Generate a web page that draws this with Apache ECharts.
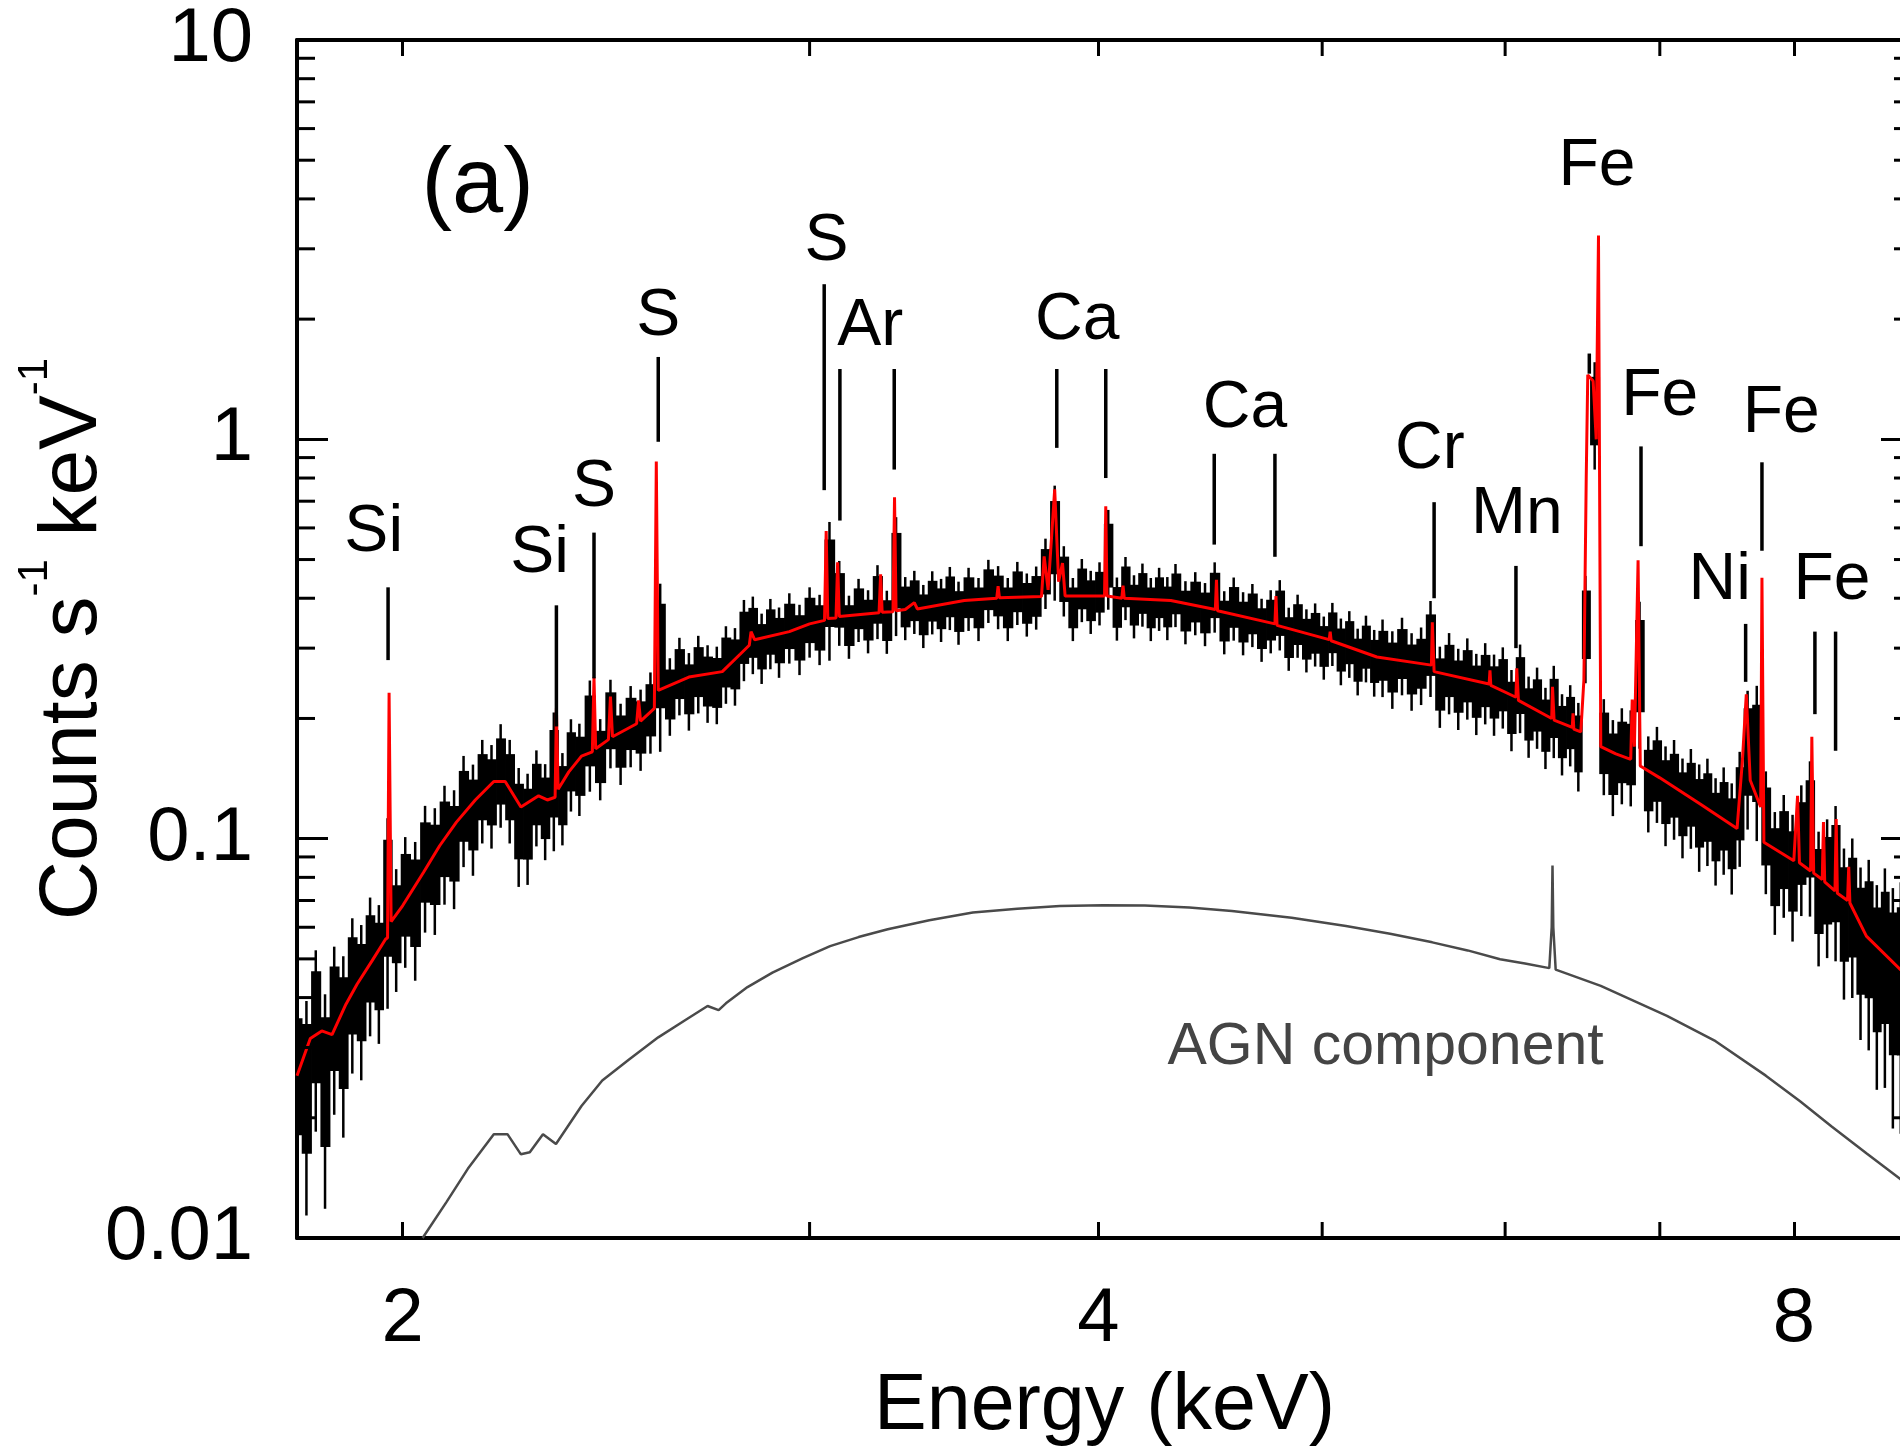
<!DOCTYPE html>
<html><head><meta charset="utf-8">
<script src="https://cdn.jsdelivr.net/npm/echarts@6/dist/echarts.min.js"></script>
<style>html,body{margin:0;padding:0;background:#fff;overflow:hidden;width:1900px;height:1450px}#c{width:1920px;height:1450px}</style>
</head><body><div id="c"></div>
<script>
const FONT = "'Liberation Sans', Arial, Helvetica, sans-serif";

// ---- axes ----
const X_MIN = 1.8, X_MAX = 9;
const Y_MIN = 0.01, Y_MAX = 10;
const xTickLabels = [2, 4, 8];
const xMinorTicks = [3, 5, 6, 7];
const yTickLabels = ['0.01', '0.1', '1', '10'];
const yMinorTicks = [0.02,0.03,0.04,0.05,0.06,0.07,0.08,0.09,0.2,0.3,0.4,0.5,0.6,0.7,0.8,0.9,2,3,4,5,6,7,8,9];

// ---- observed spectrum (bin centre energy, counts, relative error) ----
const obsE = [1.800,1.817,1.834,1.851,1.868,1.885,1.902,1.919,1.936,1.953,1.970,1.987,
2.005,2.025,2.045,2.065,2.085,2.105,2.125,2.145,2.165,2.185,2.205,2.225,2.245,2.265,2.285,2.305,2.325,2.345,2.365,2.385,
2.410,2.435,2.460,2.485,2.510,2.535,2.560,2.585,2.610,2.635,2.660,2.685,2.710,2.735,2.760,2.785,2.810,2.835,2.860,2.885,
2.910,2.940,2.970,3.000,3.030,3.060,3.090,3.120,3.150,3.180,3.210,3.240,3.270,3.300,3.330,3.360,3.390,3.420,3.450,3.480,
3.515,3.550,3.585,3.620,3.655,3.690,3.725,3.760,3.795,3.830,3.865,3.900,3.935,3.970,4.005,4.040,4.075,4.110,4.145,4.180,4.215,4.250,4.285,
4.320,4.363,4.406,4.449,4.492,4.535,4.578,4.621,4.664,4.707,4.750,4.793,4.836,4.879,4.922,4.965,5.008,5.051,5.094,5.137,5.180,5.223,5.266,
5.310,5.362,5.414,5.466,5.518,5.570,5.622,5.674,5.726,5.778,5.830,5.882,5.934,5.986,6.038,6.090,6.142,6.194,6.246,6.298,6.350,6.402,6.454,
6.500,6.560,6.620,6.680,6.740,6.800,6.860,6.920,6.980,7.040,7.100,7.160,7.220,7.280,7.340,7.400,7.460,7.520,7.580,7.640,
7.710,7.780,7.850,7.920,7.990,8.060,8.130,8.200,8.270,8.340,8.410,8.480,8.550,8.620,8.690,8.760,8.830,8.900];
const obsV = [0.0268,0.0253,0.0355,0.0263,0.0370,0.0343,0.0445,0.0428,0.0516,0.0494,0.075,0.0626,
0.0742,0.0711,0.0895,0.0883,0.102,0.0994,0.123,0.117,0.137,0.133,0.150,0.137,0.113,0.111,0.131,0.121,0.150,0.130,0.158,0.154,
0.190,0.162,0.200,0.177,0.196,0.192,0.212,0.300,0.232,0.261,0.239,0.264,0.250,0.248,0.279,0.276,0.322,0.331,0.305,0.332,
0.316,0.343,0.321,0.355,0.340,0.450,0.400,0.344,0.379,0.355,0.400,0.354,0.480,0.383,0.397,0.366,0.396,0.379,0.406,0.373,
0.404,0.381,0.423,0.408,0.381,0.418,0.391,0.407,0.470,0.580,0.450,0.381,0.425,0.397,0.417,0.520,0.382,0.430,0.387,0.414,0.381,0.404,0.383,
0.413,0.374,0.394,0.370,0.410,0.353,0.382,0.351,0.368,0.338,0.355,0.370,0.321,0.346,0.318,0.329,0.305,0.330,0.299,0.312,0.282,0.304,0.280,
0.290,0.271,0.293,0.268,0.277,0.310,0.246,0.266,0.243,0.258,0.236,0.251,0.235,0.245,0.215,0.245,0.207,0.218,0.194,0.215,0.187,0.197,0.175,
0.350,1.200,0.176,0.156,0.167,0.165,0.280,0.142,0.150,0.133,0.138,0.124,0.131,0.118,0.122,0.109,0.116,0.105,0.125,0.170,
0.170,0.110,0.087,0.096,0.085,0.100,0.110,0.076,0.081,0.085,0.067,0.070,0.058,0.059,0.050,0.054,0.047,0.048];
const obsErr = [0.5,0.55,0.48,0.55,0.45,0.48,0.42,0.42,0.38,0.38,0.5,0.34,
0.36,0.38,0.35,0.35,0.33,0.33,0.31,0.31,0.29,0.29,0.29,0.29,0.33,0.31,0.27,0.27,0.38,0.26,0.26,0.26,
0.31,0.23,0.25,0.23,0.23,0.23,0.23,0.45,0.22,0.22,0.22,0.22,0.22,0.22,0.22,0.22,0.23,0.22,0.2,0.2,
0.2,0.2,0.2,0.2,0.2,0.38,0.24,0.18,0.18,0.18,0.21,0.18,0.33,0.18,0.18,0.18,0.18,0.18,0.18,0.18,
0.18,0.18,0.18,0.18,0.18,0.18,0.18,0.18,0.2,0.32,0.2,0.18,0.18,0.18,0.18,0.28,0.18,0.18,0.18,0.18,0.18,0.18,0.18,
0.18,0.18,0.18,0.18,0.2,0.18,0.18,0.18,0.18,0.18,0.18,0.2,0.18,0.18,0.18,0.18,0.18,0.18,0.19,0.19,0.19,0.19,0.19,
0.22,0.22,0.22,0.22,0.22,0.27,0.23,0.23,0.23,0.23,0.23,0.23,0.23,0.23,0.23,0.25,0.23,0.23,0.23,0.26,0.23,0.23,0.25,
0.3,0.3,0.27,0.27,0.27,0.27,0.4,0.27,0.27,0.28,0.28,0.28,0.28,0.3,0.3,0.3,0.3,0.31,0.32,0.38,
0.42,0.34,0.34,0.34,0.35,0.36,0.42,0.37,0.38,0.42,0.41,0.43,0.46,0.5,0.53,0.56,0.6,0.62];

// ---- best-fit model (red) ----
const modelE = [1.800,1.824,1.845,1.864,1.890,1.911,1.940,1.966,1.970,1.973,
1.977,2.000,2.042,2.075,2.110,2.150,2.190,2.215,2.250,2.290,
2.310,2.328,2.331,2.335,2.360,2.390,2.416,2.420,2.424,2.455,
2.460,2.465,2.525,2.530,2.535,2.570,2.575,2.580,2.660,2.750,
2.800,2.825,2.830,2.840,2.940,3.000,3.045,3.050,3.055,3.080,
3.085,3.090,3.215,3.220,3.225,3.260,3.265,3.270,3.300,3.330,
3.340,3.500,3.615,3.620,3.625,3.780,3.790,3.805,3.830,3.845,
3.860,3.870,4.025,4.030,4.035,4.095,4.100,4.105,4.300,4.495,
4.500,4.505,4.770,4.775,4.780,5.035,5.040,5.045,5.280,5.575,
5.580,5.590,5.905,5.910,5.915,6.065,6.070,6.080,6.285,6.290,
6.300,6.415,6.420,6.425,6.470,6.490,6.505,6.515,6.550,6.570,
6.585,6.600,6.700,6.800,6.810,6.825,6.850,6.865,7.000,7.290,
7.560,7.600,7.630,7.660,7.740,7.750,7.765,8.000,8.030,8.045,
8.135,8.145,8.160,8.230,8.240,8.250,8.335,8.345,8.355,8.440,
8.450,8.460,8.600,9.000];
const modelV = [0.0255,0.0316,0.0330,0.0323,0.0385,0.0432,0.0495,0.0560,0.0565,0.232,
0.062,0.068,0.0824,0.096,0.110,0.125,0.139,0.139,0.120,0.128,
0.125,0.127,0.212,0.133,0.147,0.161,0.165,0.254,0.168,0.177,
0.227,0.180,0.194,0.222,0.197,0.212,0.880,0.235,0.254,0.262,
0.290,0.305,0.330,0.315,0.330,0.345,0.352,0.589,0.356,0.357,
0.492,0.360,0.368,0.459,0.369,0.370,0.716,0.372,0.375,0.390,
0.376,0.395,0.400,0.429,0.401,0.404,0.509,0.420,0.750,0.440,
0.490,0.405,0.405,0.680,0.405,0.400,0.430,0.400,0.395,0.375,
0.445,0.372,0.345,0.405,0.342,0.315,0.330,0.313,0.285,0.272,
0.348,0.262,0.244,0.264,0.242,0.226,0.267,0.222,0.200,0.240,
0.198,0.190,0.206,0.188,0.185,0.250,0.800,1.450,1.400,1.000,
3.240,0.170,0.163,0.158,0.223,0.170,0.498,0.152,0.142,0.122,
0.106,0.156,0.230,0.140,0.120,0.450,0.098,0.088,0.128,0.087,
0.083,0.180,0.082,0.079,0.110,0.078,0.074,0.112,0.073,0.070,
0.085,0.069,0.057,0.044];

// ---- AGN component (grey) ----
const agnE = [2.040,2.089,2.134,2.190,2.220,2.250,2.270,2.300,2.330,2.390,2.440,2.506,2.580,2.654,2.710,2.740,2.760,2.820,2.891,2.980,3.062,3.150,3.243,3.380,3.530,3.690,3.850,4.020,4.190,4.380,4.570,4.850,5.120,5.350,5.580,5.780,5.970,6.120,6.270,6.285,6.290,6.295,6.310,6.600,7.050,7.400,7.780,8.050,8.310,8.600,8.890,9.000];
const agnV = [0.0100,0.0123,0.0149,0.0182,0.0182,0.0162,0.0164,0.0182,0.0172,0.0214,0.0248,0.0280,0.0318,0.0353,0.0381,0.0372,0.0387,0.0425,0.0462,0.0502,0.0538,0.0567,0.0593,0.0625,0.0653,0.0668,0.0678,0.0681,0.0680,0.0672,0.0659,0.0634,0.0604,0.0578,0.0550,0.0525,0.0499,0.0487,0.0474,0.0600,0.0857,0.0600,0.0470,0.0428,0.0360,0.0311,0.0255,0.0220,0.0190,0.0163,0.0141,0.0133];

// ---- line identification markers ----
const markerE   = [1.971,2.331,2.420,2.580,3.044,3.092,3.264,3.838,4.030,4.490,4.770,5.590,6.065,6.525,6.870,7.750,7.625,8.170,8.340];
const markerTop = [0.426,0.384,0.584,1.608,2.446,1.500,1.500,1.500,1.500,0.920,0.920,0.696,0.482,1.640,0.960,0.876,0.345,0.330,0.330];
const markerBot = [0.280,0.191,0.252,0.986,0.746,0.626,0.840,0.952,0.800,0.545,0.508,0.400,0.300,1.460,0.540,0.526,0.247,0.205,0.166];

const labelText = ['Si','Si','S','S','S','Ar','Ca','Ca','Cr','Mn','Fe','Fe','Fe','Ni','Fe'];
const labelE    = [1.943,2.292,2.420,2.580,3.051,3.187,3.917,4.630,5.566,6.070,6.575,7.000,7.900,7.430,8.310];
const labelV    = [0.584,0.518,0.756,2.025,3.124,1.915,1.984,1.191,0.939,0.648,4.820,1.277,1.158,0.4415,0.4415];

const panelTag = '(a)';
const panelTagPos = [2.155, 4.3];
const agnLabel = 'AGN component';
const agnLabelPos = [5.326, 0.030];

// ---- chart ----
const chart = echarts.init(document.getElementById('c'), null, {renderer: 'canvas'});

function xLabel(v) {
  const r = Math.round(v);
  return (Math.abs(v - r) < 1e-6 && xTickLabels.indexOf(r) >= 0) ? String(r) : '';
}
function yLabel(v) {
  const lg = Math.log10(v), r = Math.round(lg);
  if (Math.abs(lg - r) > 1e-6) return '';
  const idx = r - Math.round(Math.log10(Y_MIN));
  return yTickLabels[idx] || '';
}

const axisLine = {show: true, lineStyle: {color: '#000', width: 4}};
const baseX = {type: 'log', logBase: 2, min: X_MIN, max: X_MAX, splitLine: {show: false}, axisLine: axisLine};
const baseY = {type: 'log', logBase: 10, min: Y_MIN, max: Y_MAX, splitLine: {show: false}, axisLine: axisLine};

function textItem(text, size, color) {
  return function (params, api) {
    const p = api.coord([api.value(0), api.value(1)]);
    return {type: 'text', x: p[0], y: p[1],
      style: {text: text, fontSize: size, fontFamily: FONT, fill: color, align: 'center', verticalAlign: 'middle'}};
  };
}

chart.setOption({
  animation: false,
  backgroundColor: '#fff',
  grid: {left: 297, top: 40, width: 1615, height: 1198, containLabel: false, outerBoundsMode: 'none'},
  xAxis: [
    Object.assign({}, baseX, {position: 'bottom',
      axisTick: {show: true, inside: true, length: 16, lineStyle: {color: '#000', width: 3}},
      axisLabel: {show: true, formatter: xLabel, fontSize: 76, fontFamily: FONT, color: '#000', margin: 44},
      name: 'Energy (keV)', nameLocation: 'middle', nameGap: 130,
      nameTextStyle: {fontSize: 79, fontFamily: FONT, color: '#000'}}),
    Object.assign({}, baseX, {position: 'top',
      axisTick: {show: true, inside: true, length: 16, lineStyle: {color: '#000', width: 3}},
      axisLabel: {show: false}})
  ],
  yAxis: [
    Object.assign({}, baseY, {position: 'left',
      axisTick: {show: true, inside: true, length: 31, lineStyle: {color: '#000', width: 3}},
      axisLabel: {show: true, formatter: yLabel, fontSize: 76, fontFamily: FONT, color: '#000', margin: 44},
      name: '{a|Counts s}{b|-1}{a| keV}{b|-1}', nameLocation: 'middle', nameGap: 165, nameRotate: 90,
      nameMoveOverlap: false,
      nameTextStyle: {color: '#000', fontFamily: FONT,
        rich: {a: {fontSize: 82, lineHeight: 118, fontFamily: FONT, color: '#000'},
               b: {fontSize: 42, lineHeight: 42, verticalAlign: 'top', fontFamily: FONT, color: '#000'}}}}),
    Object.assign({}, baseY, {position: 'right',
      axisTick: {show: true, inside: true, length: 31, lineStyle: {color: '#000', width: 3}},
      axisLabel: {show: false}})
  ],
  series: [
    { // observed data
      type: 'custom', name: 'observed', clip: true, z: 2,
      data: obsE.map((e, i) => [e, obsV[i], obsErr[i], i]),
      encode: {x: 0, y: 1},
      renderItem: function (params, api) {
        const i = api.value(3), e = api.value(0), v = api.value(1), err = api.value(2);
        const x = api.coord([e, v])[0];
        const xp = i > 0 ? api.coord([obsE[i - 1], v])[0] : null;
        const xn = i < obsE.length - 1 ? api.coord([obsE[i + 1], v])[0] : null;
        const left = xp !== null ? (xp + x) / 2 : x - (xn - x) / 2;
        const right = xn !== null ? (xn + x) / 2 : x + (x - xp) / 2;
        const yT = api.coord([e, v * (1 + err)])[1];
        const yB = api.coord([e, v * (1 - err)])[1];
        const yT2 = api.coord([e, v * (1 + 0.65 * err)])[1];
        const yB2 = api.coord([e, v * (1 - 0.65 * err)])[1];
        return {type: 'group', children: [
          {type: 'rect', shape: {x: left, y: yT2, width: right - left + 0.8, height: yB2 - yT2}, style: {fill: '#000'}},
          {type: 'line', shape: {x1: x, y1: yT, x2: x, y2: yB}, style: {stroke: '#000', lineWidth: 2.5}}
        ]};
      }
    },
    { // model
      type: 'line', name: 'model', data: modelE.map((e, i) => [e, modelV[i]]),
      showSymbol: false, symbol: 'none', clip: true, z: 3,
      lineStyle: {color: '#ff0000', width: 3}
    },
    { // AGN component
      type: 'line', name: 'AGN', data: agnE.map((e, i) => [e, agnV[i]]),
      showSymbol: false, symbol: 'none', clip: true, z: 3,
      lineStyle: {color: '#4a4a4a', width: 2.5}
    },
    { // markers
      type: 'custom', name: 'markers', clip: true, z: 4,
      data: markerE.map((e, i) => [e, markerTop[i], markerBot[i]]),
      encode: {x: 0, y: [1, 2]},
      renderItem: function (params, api) {
        const a = api.coord([api.value(0), api.value(1)]);
        const b = api.coord([api.value(0), api.value(2)]);
        return {type: 'line', shape: {x1: a[0], y1: a[1], x2: b[0], y2: b[1]}, style: {stroke: '#000', lineWidth: 3.5}};
      }
    },
    { // element labels
      type: 'custom', name: 'labels', clip: false, z: 5,
      data: labelE.map((e, i) => [e, labelV[i], i]),
      encode: {x: 0, y: 1},
      renderItem: function (params, api) {
        const p = api.coord([api.value(0), api.value(1)]);
        return {type: 'text', x: p[0], y: p[1],
          style: {text: labelText[api.value(2)], fontSize: 66, fontFamily: FONT, fill: '#000', align: 'center', verticalAlign: 'middle'}};
      }
    },
    {type: 'custom', name: 'tag', clip: false, z: 5, data: [panelTagPos], encode: {x: 0, y: 1},
      renderItem: textItem(panelTag, 92, '#000')},
    {type: 'custom', name: 'agnLabel', clip: false, z: 5, data: [agnLabelPos], encode: {x: 0, y: 1},
      renderItem: textItem(agnLabel, 59, '#444')},
    { // x minor ticks (bottom & top)
      type: 'custom', name: 'xMinor', clip: false, z: 6,
      data: xMinorTicks.map(v => [v, Y_MIN]), encode: {x: 0, y: 1},
      renderItem: function (params, api) {
        const cs = params.coordSys;
        const x = api.coord([api.value(0), Y_MIN])[0];
        const st = {stroke: '#000', lineWidth: 3};
        return {type: 'group', children: [
          {type: 'line', shape: {x1: x, y1: cs.y + cs.height, x2: x, y2: cs.y + cs.height - 16}, style: st},
          {type: 'line', shape: {x1: x, y1: cs.y, x2: x, y2: cs.y + 16}, style: st}
        ]};
      }
    },
    { // y minor ticks (left & right)
      type: 'custom', name: 'yMinor', clip: false, z: 6,
      data: yMinorTicks.map(v => [X_MIN, v]), encode: {x: 0, y: 1},
      renderItem: function (params, api) {
        const cs = params.coordSys;
        const y = api.coord([X_MIN, api.value(1)])[1];
        const st = {stroke: '#000', lineWidth: 3};
        return {type: 'group', children: [
          {type: 'line', shape: {x1: cs.x, y1: y, x2: cs.x + 18, y2: y}, style: st},
          {type: 'line', shape: {x1: cs.x + cs.width, y1: y, x2: cs.x + cs.width - 18, y2: y}, style: st}
        ]};
      }
    }
  ]
});
</script></body></html>
